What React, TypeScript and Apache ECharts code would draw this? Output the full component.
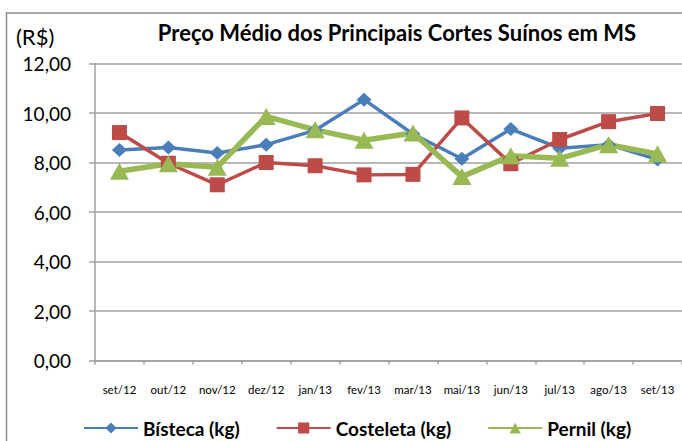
import React, { useEffect, useRef } from "react";
import * as echarts from "echarts";

const categories = ["set/12", "out/12", "nov/12", "dez/12", "jan/13", "fev/13", "mar/13", "mai/13", "jun/13", "jul/13", "ago/13", "set/13"];
const bisteca = [8.51, 8.61, 8.38, 8.72, 9.3, 10.54, 9.15, 8.15, 9.35, 8.58, 8.72, 8.12];
const costeleta = [9.21, 7.97, 7.1, 8.0, 7.87, 7.5, 7.52, 9.8, 7.95, 8.93, 9.65, 9.98];
const pernil = [7.65, 7.95, 7.81, 9.86, 9.32, 8.9, 9.19, 7.43, 8.27, 8.17, 8.72, 8.35];
const seriesNames = ["Bísteca (kg)", "Costeleta (kg)", "Pernil (kg)"];
const yTicks = { min: 0, max: 12, interval: 2 };
const titleText = "Preço Médio dos Principais Cortes Suínos em MS";
const unitText = "(R$)";

const FONT = "Lato, 'Open Sans', sans-serif";

export default function App() {
  const ref = useRef<HTMLDivElement>(null);
  useEffect(() => {
    if (!ref.current) return;
    const chart = echarts.init(ref.current, null, { renderer: "svg" });
    chart.setOption({
      animation: false,
      backgroundColor: "#ffffff",
      textStyle: { fontFamily: FONT },
      graphic: [
        {
          type: "rect",
          shape: { x: 6.5, y: 13, width: 720, height: 500 },
          style: { fill: "none", stroke: "#8c8c8c", lineWidth: 1.5 },
          silent: true,
        },
        {
          type: "text",
          x: 16,
          y: 36,
          style: { text: unitText, font: `22px ${FONT}`, fill: "#000", verticalAlign: "middle" },
        },
        {
          type: "text",
          x: 397,
          y: 32,
          style: { text: titleText, font: `bold 22px ${FONT}`, fill: "#000", align: "center", verticalAlign: "middle" },
        },
      ],
      legend: {
        data: seriesNames,
        left: 83,
        top: 417,
        padding: 0,
        itemWidth: 54,
        itemHeight: 14,
        itemGap: 36,
        textStyle: { fontFamily: FONT, fontWeight: "bold", fontSize: 19, color: "#000", lineHeight: 22 },
      },
      grid: { left: 95, top: 63.5, width: 592, height: 297, containLabel: false },
      xAxis: {
        type: "category",
        data: categories,
        boundaryGap: true,
        axisLine: { lineStyle: { color: "#a0a0a0", width: 1.5 } },
        axisTick: { show: true, length: 4, lineStyle: { color: "#a0a0a0", width: 1.5 } },
        axisLabel: { color: "#000", fontSize: 11.5, fontFamily: FONT, margin: 23 },
        splitLine: { show: false },
      },
      yAxis: {
        type: "value",
        min: yTicks.min,
        max: yTicks.max,
        interval: yTicks.interval,
        axisLine: { show: true, lineStyle: { color: "#a0a0a0", width: 1.5 } },
        axisTick: { show: true, length: 6, lineStyle: { color: "#a0a0a0", width: 1.5 } },
        axisLabel: {
          color: "#000",
          fontSize: 19,
          fontFamily: FONT,
          margin: 24,
          formatter: (v: number) => v.toFixed(2).replace(".", ","),
        },
        splitLine: { show: true, lineStyle: { color: "#a0a0a0", width: 1.5 } },
      },
      series: [
        {
          name: seriesNames[0],
          type: "line",
          data: bisteca,
          symbol: "diamond",
          symbolSize: [15, 14],
          lineStyle: { color: "#4a7ebb", width: 3.5 },
          itemStyle: { color: "#4a7ebb" },
        },
        {
          name: seriesNames[1],
          type: "line",
          data: costeleta,
          symbol: "rect",
          symbolSize: 15,
          lineStyle: { color: "#be4b48", width: 3.5 },
          itemStyle: { color: "#be4b48" },
        },
        {
          name: seriesNames[2],
          type: "line",
          data: pernil,
          symbol: "triangle",
          symbolSize: [19, 17],
          lineStyle: { color: "#98b954", width: 5.5 },
          itemStyle: { color: "#98b954" },
        },
      ],
    });
    return () => chart.dispose();
  }, []);
  return (
    <div
      ref={ref}
      style={{ position: "fixed", left: 0, top: 0, width: 682, height: 441, background: "#fff" }}
    />
  );
}
